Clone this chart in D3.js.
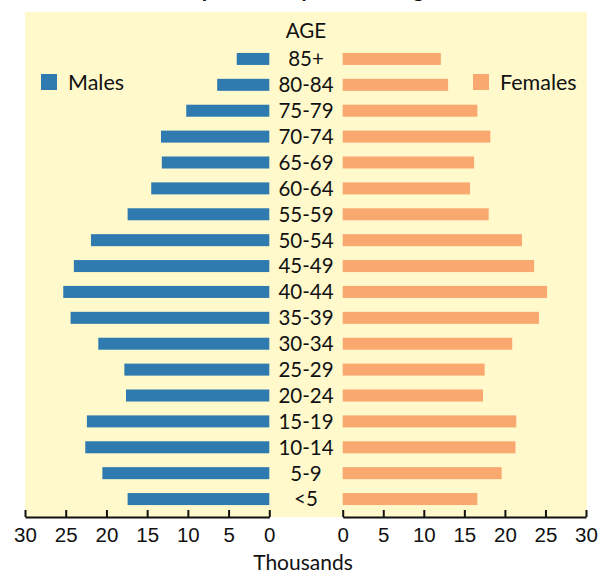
<!DOCTYPE html>
<html>
<head>
<meta charset="utf-8">
<script src="https://cdn.jsdelivr.net/npm/d3@7"></script>
<style>
  html, body { margin: 0; padding: 0; background: #fff; }
  svg { display: block; font-family: Lato, "Open Sans", sans-serif; }
  .axis path, .axis line { stroke: #111; stroke-width: 2; }
  .axis text { fill: #111; font-size: 20.5px; }
</style>
</head>
<body>
<svg id="chart" width="604" height="580"></svg>
<script>
// Age groups, youngest first
const ageGroups = ["<5", "5-9", "10-14", "15-19", "20-24", "25-29", "30-34", "35-39",
  "40-44", "45-49", "50-54", "55-59", "60-64", "65-69", "70-74", "75-79", "80-84", "85+"];
// Population in thousands
const males = [17.4, 20.5, 22.6, 22.4, 17.6, 17.8, 21.0, 24.4,
  25.3, 24.0, 21.9, 17.4, 14.5, 13.2, 13.3, 10.2, 6.4, 4.0];
const females = [16.6, 19.6, 21.3, 21.4, 17.3, 17.5, 20.9, 24.2,
  25.2, 23.6, 22.1, 18.0, 15.7, 16.2, 18.2, 16.6, 13.0, 12.1];
const tickValues = [0, 5, 10, 15, 20, 25, 30];
const seriesNames = ["Males", "Females"];
const titleText = "Population by Sex and Age";

const colors = { Males: "#2f7bb0", Females: "#f9a870" };
const svg = d3.select("#chart");

const panel = { left: 25, right: 587, top: 12, bottom: 517 };
const leftEnd = 269.3, rightStart = 342.7;
const centerX = 306;

const xL = d3.scaleLinear().domain([0, 30]).range([leftEnd, panel.left]);
const xR = d3.scaleLinear().domain([0, 30]).range([rightStart, 586]);
const y = d3.scaleBand().domain(ageGroups).range([512, 46])
  .paddingInner(0.536).paddingOuter(0.268);

// Title (mostly above the top edge; only descenders show)
svg.append("text")
  .attr("x", centerX).attr("y", -3)
  .attr("text-anchor", "middle")
  .attr("font-weight", "bold").attr("font-size", 22).attr("fill", "#111")
  .text(titleText);

// Background panel
svg.append("rect")
  .attr("x", panel.left).attr("y", panel.top)
  .attr("width", panel.right - panel.left).attr("height", panel.bottom - panel.top)
  .attr("fill", "#fff9cc");

// Bars
svg.append("g").selectAll("rect").data(ageGroups).join("rect")
  .attr("x", (d, i) => xL(males[i]))
  .attr("y", d => y(d))
  .attr("width", (d, i) => xL(0) - xL(males[i]))
  .attr("height", y.bandwidth())
  .attr("fill", colors.Males);

svg.append("g").selectAll("rect").data(ageGroups).join("rect")
  .attr("x", xR(0))
  .attr("y", d => y(d))
  .attr("width", (d, i) => xR(females[i]) - xR(0))
  .attr("height", y.bandwidth())
  .attr("fill", colors.Females);

// Age labels
svg.append("g").selectAll("text").data(ageGroups).join("text")
  .attr("x", centerX)
  .attr("y", d => y(d) + y.bandwidth() / 2)
  .attr("dy", "0.36em")
  .attr("text-anchor", "middle")
  .attr("font-size", 20.5).attr("fill", "#111")
  .text(d => d);

svg.append("text")
  .attr("x", centerX).attr("y", 31).attr("dy", "0.36em")
  .attr("text-anchor", "middle")
  .attr("font-size", 20.5).attr("fill", "#111")
  .text("AGE");

// Axes
const axisL = d3.axisBottom(xL).tickValues(tickValues).tickSizeInner(-7).tickSizeOuter(0);
const axisR = d3.axisBottom(xR).tickValues(tickValues).tickSizeInner(-7).tickSizeOuter(0);
svg.append("g").attr("class", "axis").attr("transform", `translate(0,${panel.bottom})`).call(axisL);
svg.append("g").attr("class", "axis").attr("transform", `translate(0,${panel.bottom})`).call(axisR);
svg.selectAll(".axis text").attr("y", 18).attr("dy", "0.36em");

svg.append("text")
  .attr("x", centerX - 3).attr("y", 562).attr("dy", "0.36em")
  .attr("text-anchor", "middle")
  .attr("font-size", 21).attr("fill", "#111")
  .text("Thousands");

// Legend
const legendItems = [
  { name: seriesNames[0], x: 41 },
  { name: seriesNames[1], x: 473 }
];
const lg = svg.append("g").selectAll("g").data(legendItems).join("g")
  .attr("transform", d => `translate(${d.x},74)`);
lg.append("rect").attr("width", 16).attr("height", 16).attr("fill", d => colors[d.name]);
lg.append("text").attr("x", 27).attr("y", 8).attr("dy", "0.36em")
  .attr("font-size", 21.5).attr("fill", "#111")
  .text(d => d.name);
</script>
</body>
</html>
